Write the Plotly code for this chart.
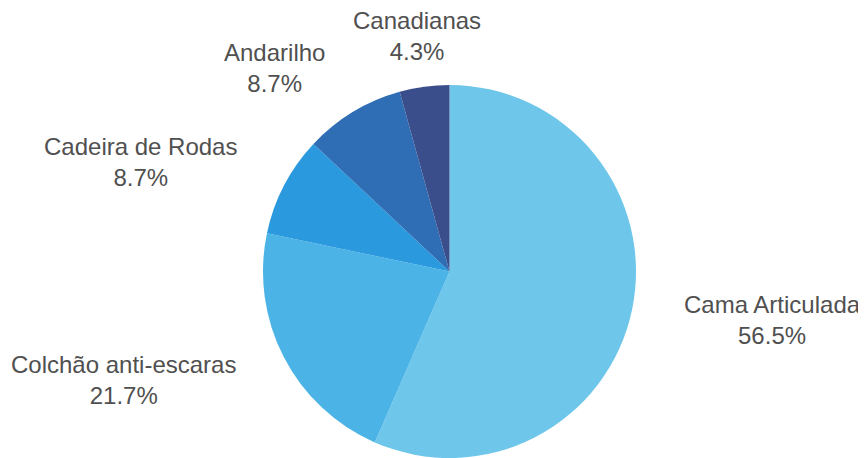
import math
import plotly.graph_objects as go

labels = ["Cama Articulada", "Colchão anti-escaras", "Cadeira de Rodas", "Andarilho", "Canadianas"]
values = [56.5, 21.7, 8.7, 8.7, 4.3]
colors = ["#6ec6ea", "#4bb3e6", "#2b99de", "#2f6db5", "#3b4e8c"]

# page body has an 8px margin; figure sized to fit the window
OFF = 8
W, H = 866 - OFF, 458 - OFF
dom_x = [(262 - OFF) / W, (637 - OFF) / W]
dom_y = [max(0.0, 1 - (460 - OFF) / H), 1 - (85 - OFF) / H]

fig = go.Figure(go.Pie(
    labels=labels, values=values, sort=False, direction="clockwise", rotation=0,
    marker=dict(colors=colors, line=dict(width=0)),
    textinfo="none", hoverinfo="label+value",
    domain=dict(x=dom_x, y=dom_y),
    showlegend=False,
))

# label placement derived from slice mid-angles
cx = (dom_x[0] + dom_x[1]) / 2 * W
cy = (1 - (dom_y[0] + dom_y[1]) / 2) * H
r = min((dom_x[1] - dom_x[0]) * W, (dom_y[1] - dom_y[0]) * H) / 2
R = r + 51
total = sum(values)
cum = 0.0
for lab, v in zip(labels, values):
    mid = (cum + v / 2) / total * 2 * math.pi
    cum += v
    dx, dy = math.sin(mid), -math.cos(mid)
    px, py = cx + R * dx, cy + R * dy
    if dx > 0.3:
        xa = "left"
    elif dx < -0.3:
        xa = "right"
    else:
        xa = "center"
    fig.add_annotation(
        x=px / W, y=1 - py / H, xref="paper", yref="paper",
        text=f"{lab}<br>{v:.1f}%", showarrow=False,
        xanchor=xa, yanchor="middle", align="center",
        font=dict(family="Liberation Sans, Arial, sans-serif", size=24, color="#505050"),
    )

fig.update_layout(width=W, height=H, margin=dict(l=0, r=0, t=0, b=0),
                  paper_bgcolor="white", plot_bgcolor="white")
fig.write_html("out.html")
